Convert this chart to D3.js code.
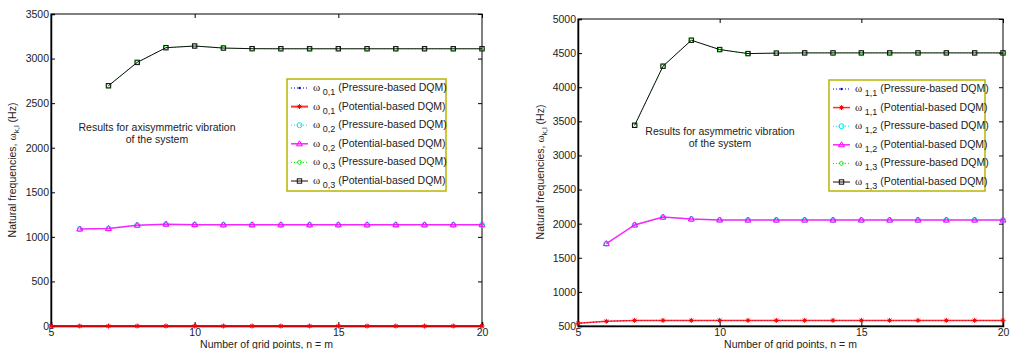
<!doctype html>
<html lang="en">
<head>
<meta charset="utf-8">
<script src="https://d3js.org/d3.v7.min.js"></script>
<style>
  body { margin: 0; background: #fff; }
  text { font-family: "Liberation Sans", Arial, sans-serif; fill: #222; }
</style>
</head>
<body>
<svg id="chart" width="1011" height="349"></svg>
<script>
// grid points (n = m)
var gridN = [5, 6, 7, 8, 9, 10, 11, 12, 13, 14, 15, 16, 17, 18, 19, 20];
var gridN6 = [6, 7, 8, 9, 10, 11, 12, 13, 14, 15, 16, 17, 18, 19, 20];
var gridN7 = [7, 8, 9, 10, 11, 12, 13, 14, 15, 16, 17, 18, 19, 20];

// axisymmetric (left)
var w01Pressure = [0, 0, 0, 0, 0, 0, 0, 0, 0, 0, 0, 0, 0, 0, 0, 0];
var w01Potential = [0, 0, 0, 0, 0, 0, 0, 0, 0, 0, 0, 0, 0, 0, 0, 0];
var w02Pressure = [1088, 1093, 1131, 1142, 1137, 1135, 1135, 1135, 1135, 1135, 1135, 1135, 1135, 1135, 1135];
var w02Potential = [1088, 1093, 1131, 1142, 1137, 1135, 1135, 1135, 1135, 1135, 1135, 1135, 1135, 1135, 1135];
var w03Pressure = [2695, 2957, 3122, 3141, 3118, 3111, 3110, 3110, 3110, 3110, 3110, 3110, 3110, 3110];
var w03Potential = [2695, 2957, 3122, 3141, 3118, 3111, 3110, 3110, 3110, 3110, 3110, 3110, 3110, 3110];

// asymmetric (right)
var w11Pressure = [540, 569, 582, 582, 582, 582, 582, 582, 582, 582, 582, 582, 582, 582, 582, 582];
var w11Potential = [540, 569, 582, 582, 582, 582, 582, 582, 582, 582, 582, 582, 582, 582, 582, 582];
var w12Pressure = [1707, 1981, 2096, 2068, 2054, 2053, 2053, 2053, 2053, 2053, 2053, 2053, 2053, 2053, 2053];
var w12Potential = [1707, 1981, 2096, 2068, 2054, 2053, 2053, 2053, 2053, 2053, 2053, 2053, 2053, 2053, 2053];
var w13Pressure = [3442, 4308, 4689, 4552, 4493, 4500, 4503, 4503, 4503, 4503, 4503, 4503, 4503, 4503];
var w13Potential = [3442, 4308, 4689, 4552, 4493, 4500, 4503, 4503, 4503, 4503, 4503, 4503, 4503, 4503];

var xTicks = [5, 10, 15, 20];
var yTicksLeft = [0, 500, 1000, 1500, 2000, 2500, 3000, 3500];
var yTicksRight = [500, 1000, 1500, 2000, 2500, 3000, 3500, 4000, 4500, 5000];

var svg = d3.select('#chart');

function marker(g, type, color, x, y) {
  if (type == 'dot') {
    g.append('circle').attr('cx', x).attr('cy', y).attr('r', 1.2).attr('fill', color);
  } else if (type == 'star') {
    g.append('path').attr('d', 'M' + (x - 2.5) + ',' + y + 'h5M' + x + ',' + (y - 2.5) + 'v5M' + (x - 1.8) + ',' + (y - 1.8) + 'l3.6,3.6M' + (x + 1.8) + ',' + (y - 1.8) + 'l-3.6,3.6')
      .attr('stroke', color).attr('stroke-width', 1).attr('fill', 'none');
  } else if (type == 'circle') {
    g.append('circle').attr('cx', x).attr('cy', y).attr('r', 2.5).attr('fill', 'none').attr('stroke', color).attr('stroke-width', 1);
  } else if (type == 'tri') {
    g.append('path').attr('d', 'M' + x + ',' + (y - 3) + 'L' + (x + 3) + ',' + (y + 2) + 'L' + (x - 3) + ',' + (y + 2) + 'Z')
      .attr('fill', 'none').attr('stroke', color).attr('stroke-width', 1);
  } else if (type == 'diamond') {
    g.append('path').attr('d', 'M' + x + ',' + (y - 2.5) + 'L' + (x + 2.5) + ',' + y + 'L' + x + ',' + (y + 2.5) + 'L' + (x - 2.5) + ',' + y + 'Z')
      .attr('fill', 'none').attr('stroke', color).attr('stroke-width', 1);
  } else if (type == 'square') {
    g.append('rect').attr('x', x - 2.2).attr('y', y - 2.2).attr('width', 4.4).attr('height', 4.4)
      .attr('fill', 'none').attr('stroke', color).attr('stroke-width', 1);
  }
}

function drawPanel(p) {
  var x = d3.scaleLinear().domain([5, 20]).range([p.left, p.right]);
  var y = d3.scaleLinear().domain(p.yDomain).range([326, p.top]);
  var g = svg.append('g');

  // frame
  g.append('rect').attr('x', p.left).attr('y', p.top).attr('width', p.right - p.left).attr('height', 326 - p.top)
    .attr('fill', 'none').attr('stroke', '#000').attr('stroke-width', 1);

  // axes with inward ticks
  g.append('g').attr('transform', 'translate(0,326)')
    .call(d3.axisBottom(x).tickValues(xTicks).tickSize(-4).tickPadding(3).tickFormat(d3.format('d')))
    .call(a => a.select('.domain').attr('stroke-width', 1.5));
  g.append('g').attr('transform', 'translate(0,' + p.top + ')')
    .call(d3.axisTop(x).tickValues(xTicks).tickSize(-4).tickFormat(''))
    .call(a => a.select('.domain').remove());
  g.append('g').attr('transform', 'translate(' + p.left + ',0)')
    .call(d3.axisLeft(y).tickValues(p.yTicks).tickSize(-4).tickPadding(2).tickFormat(d3.format('d')))
    .call(a => a.select('.domain').attr('stroke-width', 1.5));
  g.append('g').attr('transform', 'translate(' + p.right + ',0)')
    .call(d3.axisRight(y).tickValues(p.yTicks).tickSize(-4).tickFormat(''))
    .call(a => a.select('.domain').remove());
  g.selectAll('.tick text').attr('font-size', 10.5).attr('fill', '#222')
    .attr('font-family', '"Liberation Sans", Arial, sans-serif');

  // series
  p.series.forEach(function (s) {
    var pts = s.n.map((n, i) => [x(n), y(s.v[i])]);
    g.append('path').datum(pts).attr('d', d3.line())
      .attr('fill', 'none').attr('stroke', s.color).attr('stroke-width', s.width)
      .attr('stroke-dasharray', s.dash ? '1,2' : null).attr('opacity', s.opacity || 1);
    pts.forEach(function (pt) { marker(g, s.marker, s.mcolor || s.color, pt[0], pt[1]); });
  });

  // annotation
  var ann = g.append('text').attr('text-anchor', 'middle').attr('font-size', 10.5);
  ann.append('tspan').attr('x', p.annX).attr('y', p.annY).text(p.ann);
  ann.append('tspan').attr('x', p.annX).attr('y', p.annY + 12).text('of the system');

  // axis labels
  g.append('text').attr('x', (p.left + p.right) / 2).attr('y', 347.5).attr('text-anchor', 'middle')
    .attr('font-size', 10.5).text('Number of grid points, n = m');
  var yl = g.append('text').attr('transform', 'translate(' + p.ylabX + ',' + p.ylabY + ') rotate(-90)')
    .attr('text-anchor', 'middle').attr('font-size', 10.5);
  yl.append('tspan').text('Natural frequencies,  ');
  yl.append('tspan').attr('font-family', '"Liberation Serif", serif').attr('font-size', 11).text('\u03c9');
  yl.append('tspan').attr('font-size', 8).attr('dy', 3).text(p.ysub);
  yl.append('tspan').attr('dy', -3).text(' (Hz)');

  // legend
  var lg = g.append('g');
  lg.append('rect').attr('x', p.lgX).attr('y', p.lgY).attr('width', p.lgW).attr('height', p.lgH)
    .attr('fill', '#fff').attr('stroke', '#b8b400').attr('stroke-width', 1.5);
  p.series.forEach(function (s, i) {
    var ry = p.lgY + 9 + i * 18.6;
    var lx = p.lgX + 4;
    lg.append('line').attr('x1', lx).attr('x2', lx + 17).attr('y1', ry).attr('y2', ry)
      .attr('stroke', s.color).attr('stroke-width', s.width).attr('stroke-dasharray', s.dash ? '1,2' : null)
      .attr('opacity', s.opacity || 1);
    marker(lg, s.marker, s.mcolor || s.color, lx + 8.5, ry);
    var t = lg.append('text').attr('x', lx + 22).attr('y', ry + 3).attr('font-size', 10.5);
    t.append('tspan').attr('font-family', '"Liberation Serif", serif').attr('font-size', 11).text('\u03c9');
    t.append('tspan').attr('font-size', 9).attr('dy', 4).text(' ' + s.sub);
    t.append('tspan').attr('dy', -4).text(' ' + s.label);
  });
}

drawPanel({
  left: 51, right: 482, top: 14, yDomain: [0, 3500], yTicks: yTicksLeft,
  ann: 'Results for axisymmetric vibration', annX: 157, annY: 131,
  ylabX: 16, ylabY: 170, ysub: 'k,l',
  lgX: 287, lgY: 79, lgW: 159, lgH: 112,
  series: [
    { n: gridN, v: w01Pressure, color: '#0000ff', width: 1, dash: true, marker: 'dot', sub: '0,1', label: '(Pressure-based DQM)' },
    { n: gridN, v: w01Potential, color: '#ff0000', width: 2, opacity: 0.8, marker: 'star', sub: '0,1', label: '(Potential-based DQM)' },
    { n: gridN6, v: w02Pressure, color: '#00e5ee', width: 1, dash: true, marker: 'circle', sub: '0,2', label: '(Pressure-based DQM)' },
    { n: gridN6, v: w02Potential, color: '#ff00ff', width: 1.5, opacity: 0.85, marker: 'tri', sub: '0,2', label: '(Potential-based DQM)' },
    { n: gridN7, v: w03Pressure, color: '#00ee00', width: 1, dash: true, marker: 'diamond', sub: '0,3', label: '(Pressure-based DQM)' },
    { n: gridN7, v: w03Potential, color: '#111', width: 1, marker: 'square', sub: '0,3', label: '(Potential-based DQM)' }
  ]
});

drawPanel({
  left: 578, right: 1003, top: 19, yDomain: [500, 5000], yTicks: yTicksRight,
  ann: 'Results for asymmetric vibration', annX: 720, annY: 135,
  ylabX: 544, ylabY: 172, ysub: 'k,l',
  lgX: 829, lgY: 80, lgW: 156, lgH: 111,
  series: [
    { n: gridN, v: w11Pressure, color: '#0000ff', width: 1, dash: true, marker: 'dot', sub: '1,1', label: '(Pressure-based DQM)' },
    { n: gridN, v: w11Potential, color: '#ff0000', width: 1.5, opacity: 0.8, marker: 'star', sub: '1,1', label: '(Potential-based DQM)' },
    { n: gridN6, v: w12Pressure, color: '#00e5ee', width: 1, dash: true, marker: 'circle', sub: '1,2', label: '(Pressure-based DQM)' },
    { n: gridN6, v: w12Potential, color: '#ff00ff', width: 1.5, opacity: 0.85, marker: 'tri', sub: '1,2', label: '(Potential-based DQM)' },
    { n: gridN7, v: w13Pressure, color: '#00ee00', width: 1, dash: true, marker: 'diamond', sub: '1,3', label: '(Pressure-based DQM)' },
    { n: gridN7, v: w13Potential, color: '#111', width: 1, marker: 'square', sub: '1,3', label: '(Potential-based DQM)' }
  ]
});
</script>
</body>
</html>
